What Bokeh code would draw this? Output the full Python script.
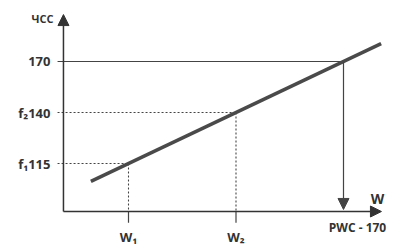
from bokeh.plotting import figure
from bokeh.models import Range1d, Arrow, NormalHead
from bokeh.core.properties import value
from bokeh.embed import file_html
from bokeh.resources import INLINE

# schematic levels (equally spaced in the reference)
x_levels = [1, 2, 3]
x_labels = ["W₁", "W₂", "PWC - 170"]
y_levels = [1, 2, 3]
y_labels = ["f₁115", "f₂140", "170"]
hr_values = [115, 140, 170]

# regression line (through the three points)
line_x = [0.65, 3.35]
line_y = [0.65, 3.35]

X0, Y0 = 0.395, 0.059          # axis origin
XTOP, YTOP = 3.353, 3.92        # arrow tips
FONT = value("Open Sans")
INK = "#333333"

p = figure(width=419, height=249, output_backend="svg", toolbar_location=None,
           x_range=Range1d(-0.1907, 3.707), y_range=Range1d(-0.686, 4.196),
           min_border=0, outline_line_color=None)
p.xaxis.visible = False
p.yaxis.visible = False
p.grid.visible = False

# axes with arrows
p.add_layout(Arrow(x_start=X0, y_start=Y0, x_end=X0, y_end=YTOP, line_color=INK, line_width=1.5,
                   end=NormalHead(size=11, fill_color=INK, line_color=INK)))
p.add_layout(Arrow(x_start=X0, y_start=Y0, x_end=XTOP, y_end=Y0, line_color=INK, line_width=1.5,
                   end=NormalHead(size=11, fill_color=INK, line_color=INK)))

# horizontal guide lines
for i, yv in enumerate(y_levels):
    dash = "solid" if i == len(y_levels) - 1 else "2 2"
    p.line([0.34, x_levels[i]], [yv, yv], line_color="#444444", line_width=1.1, line_dash=dash)

# vertical guides (W1, W2 dotted + ticks)
for i in range(2):
    xv = x_levels[i]
    p.line([xv, xv], [y_levels[i], Y0], line_color="#444444", line_width=1.1, line_dash="2 2")
    p.line([xv, xv], [Y0, -0.16], line_color="#444444", line_width=1.2)

# PWC arrow down
p.add_layout(Arrow(x_start=x_levels[2], y_start=y_levels[2], x_end=x_levels[2], y_end=Y0 + 0.04,
                   line_color="#444444", line_width=1.2,
                   end=NormalHead(size=11, fill_color="#444444", line_color="#444444")))

# main line
p.line(line_x, line_y, line_color="#4a4a4a", line_width=3.5)

# y tick labels
p.text(x=[0.274] * 3, y=y_levels, text=y_labels, text_font=FONT, text_font_style="bold",
       text_font_size="13px", text_color=INK, text_align="right", text_baseline="middle")
# x tick labels
p.text(x=x_levels[:2], y=[-0.45] * 2, text=x_labels[:2], text_font=FONT, text_font_style="bold",
       text_font_size="13px", text_color=INK, text_align="center", text_baseline="middle")
p.text(x=[x_levels[2]], y=[-0.255], text=[x_labels[2]], x_offset=14, text_font=FONT,
       text_font_style="bold", text_font_size="12px", text_color=INK, text_align="center",
       text_baseline="middle")
# axis titles
p.text(x=[0.302], y=[3.843], text=["ЧСС"], text_font=FONT, text_font_style="bold",
       text_font_size="11px", text_color=INK, text_align="right", text_baseline="middle")
p.text(x=[3.316], y=[0.314], text=["W"], text_font=FONT, text_font_style="bold",
       text_font_size="14px", text_color=INK, text_align="center", text_baseline="middle")

open("out.html", "w").write(file_html(p, INLINE))
